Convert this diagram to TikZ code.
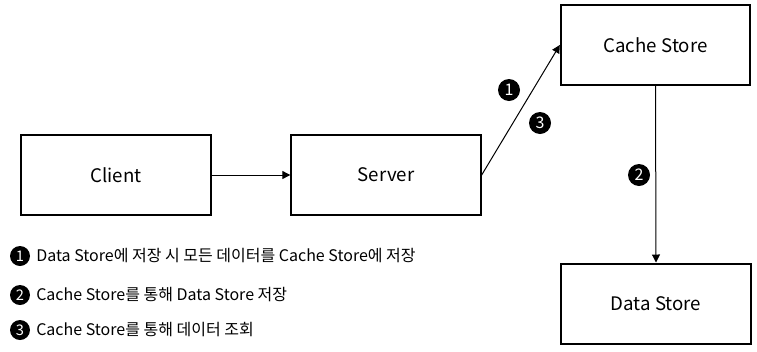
\documentclass[tikz,border=0pt]{standalone}
\usepackage{fontspec}
\setmainfont{Noto Sans CJK KR}
\usetikzlibrary{arrows.meta}
\tikzset{
  box/.style={draw, line width=1.5pt, minimum width=142pt, minimum height=60pt, inner sep=0pt, font=\fontsize{14}{16}\selectfont},
  conn/.style={line width=0.75pt, -{Triangle[length=6pt,width=6pt]}},
  badge/.style={circle, fill=black, text=white, inner sep=0pt, minimum size=16.5pt, font=\fontsize{12}{14}\selectfont},
  lbadge/.style={circle, fill=black, text=white, inner sep=0pt, minimum size=15pt, font=\fontsize{11}{13}\selectfont},
  legend/.style={anchor=west, inner sep=0pt, font=\fontsize{12}{14}\selectfont}
}
\begin{document}
\begin{tikzpicture}[x=0.75pt,y=-0.75pt]
\useasboundingbox (0,0) rectangle (757,351);
\node[box] (client) at (116,175) {Client};
\node[box] (server) at (386,175) {Server};
\node[box] (cache) at (655.5,45) {Cache Store};
\node[box] (data) at (656,303.5) {Data Store};
\draw[conn] (client) -- (server);
\draw[conn] (server.east) -- (cache.west);
\draw[conn] (cache.south) -- (data.north);
\node[badge] (b1) at (509,90) {1};
\node[badge] (b3) at (540,123) {3};
\node[badge] (b2) at (639,175) {2};
\node[lbadge] (l1) at (20,256) {1};
\node[lbadge] (l2) at (20,295) {2};
\node[lbadge] (l3) at (20,330) {3};
\node[legend] (t1) at (36,256) {Data Store에 저장 시 모든 데이터를 Cache Store에 저장};
\node[legend] (t2) at (36,295) {Cache Store를 통해 Data Store 저장};
\node[legend] (t3) at (36,330) {Cache Store를 통해 데이터 조회};
\end{tikzpicture}
\end{document}
